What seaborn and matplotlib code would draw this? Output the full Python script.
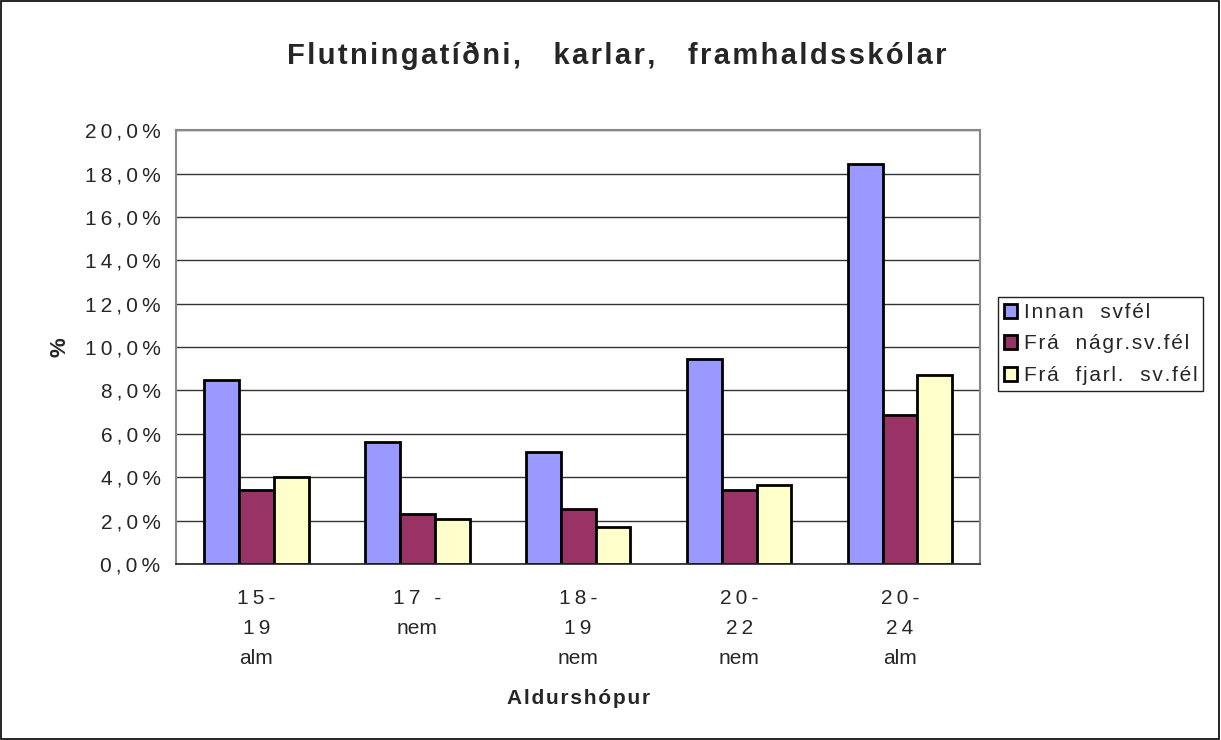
import pandas as pd
import matplotlib.pyplot as plt
import seaborn as sns
import numpy as np
from matplotlib.patches import Rectangle
from matplotlib.ticker import FixedLocator, FuncFormatter

# chart data
groups = ["15-\n19\nalm", "17 -\nnem", "18-\n19\nnem", "20-\n22\nnem", "20-\n24\nalm"]
series = ["Innan  svfél", "Frá  nágr.sv.fél", "Frá  fjarl.  sv.fél"]
innan = [8.5, 5.6, 5.15, 9.45, 18.45]
nagr = [3.4, 2.3, 2.55, 3.4, 6.85]
fjarl = [4.0, 2.05, 1.7, 3.65, 8.7]
y_ticks = [0, 2, 4, 6, 8, 10, 12, 14, 16, 18, 20]

df = pd.DataFrame({
    "group": groups * 3,
    "series": [series[0]] * 5 + [series[1]] * 5 + [series[2]] * 5,
    "value": innan + nagr + fjarl,
})

THIN = "\u2009"
HAIR = "\u200a"


def spaced(s, ch):
    # the original text is slightly letter-spaced
    return ch.join(s)


def spaced_tick(label):
    # digits lines are spread out, the word lines are not
    lines = label.split("\n")
    return "\n".join(spaced(l, THIN) if any(c.isdigit() for c in l) else l for l in lines)


sns.set_style("white")
plt.rcParams['font.family'] = ['Liberation Sans', 'DejaVu Sans']

fig = plt.figure(figsize=(12.21, 7.4), dpi=100)
ax = fig.add_axes([0.144, 0.238, 0.659, 0.586])

sns.barplot(data=df, x="group", y="value", hue="series", order=groups, hue_order=series,
            palette=["#9999FF", "#993366", "#FFFFCC"], width=0.65, saturation=1,
            edgecolor="black", linewidth=2, ax=ax, legend=True)

ax.set_ylim(0, 20)
ax.set_xlim(-0.5, 4.5)
ax.yaxis.set_major_locator(FixedLocator(y_ticks))
ax.yaxis.set_major_formatter(FuncFormatter(lambda v, p: spaced(f"{v:.1f}%".replace(".", ","), THIN)))
ax.grid(axis="y", color="#333333", linewidth=1)
ax.set_axisbelow(True)

ax.set_xticks(range(5))
ax.set_xticklabels([spaced_tick(g) for g in groups], fontsize=15, linespacing=1.75)
ax.set_xticks(np.arange(-0.5, 5, 1), minor=True)
ax.tick_params(axis="x", which="major", length=0, pad=18)
ax.tick_params(axis="x", which="minor", length=6, width=1, color="#444444", direction="out")
ax.tick_params(axis="y", length=5, width=1, color="#444444", direction="out", labelsize=15, pad=6)

for s in ["top", "right", "left"]:
    ax.spines[s].set_color("#888888")
    ax.spines[s].set_linewidth(1.5)
ax.spines["bottom"].set_color("#222222")
ax.spines["bottom"].set_linewidth(1.2)

ax.set_xlabel(spaced("Aldurshópur", HAIR), fontsize=15, fontweight="bold", labelpad=15)
ax.set_ylabel("%", fontsize=16, fontweight="bold", labelpad=10)

title = spaced("Flutningatíðni,", HAIR) + "    " + spaced("karlar,", HAIR) + "    " + spaced("framhaldsskólar", HAIR)
fig.text(0.505, 0.925, title, ha="center", va="center", fontsize=21, fontweight="bold")

ax.get_legend().remove()
handles, labels = ax.get_legend_handles_labels()
leg = fig.legend(handles, [spaced(l, HAIR) for l in labels], loc="upper left",
                 bbox_to_anchor=(0.817, 0.599),
                 bbox_transform=fig.transFigure, frameon=True, fancybox=False,
                 edgecolor="#222222", framealpha=1, fontsize=15,
                 handlelength=0.65, handleheight=0.65, handletextpad=0.3,
                 borderpad=0.3, labelspacing=0.6, borderaxespad=0)
leg.get_frame().set_linewidth(1)

fig.patches.append(Rectangle((0.001, 0.002), 0.997, 0.996, transform=fig.transFigure,
                             fill=False, edgecolor="black", linewidth=1.2))

fig.savefig("out.png", dpi=100)
